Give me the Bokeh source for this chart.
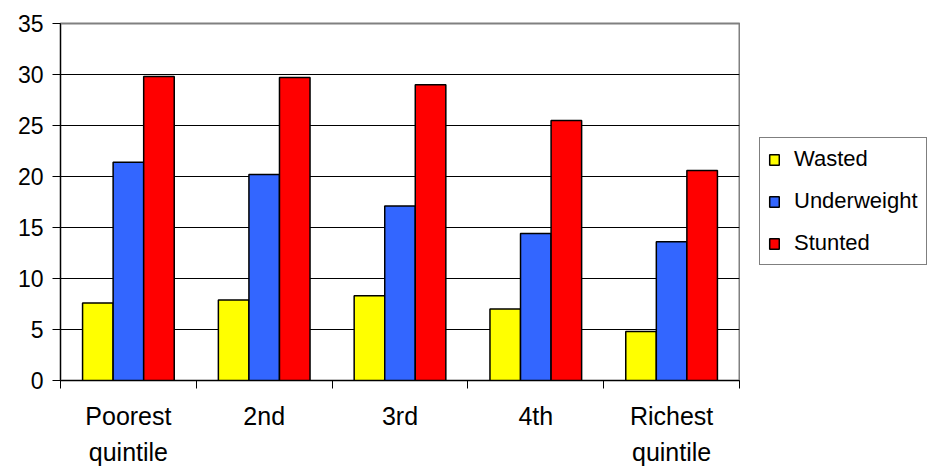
from bokeh.plotting import figure
from bokeh.layouts import row
from bokeh.models import ColumnDataSource, Range1d, FixedTicker, Legend, LegendItem
from bokeh.transform import dodge
from bokeh.embed import file_html
from bokeh.resources import INLINE

# Malnutrition prevalence (%) by wealth quintile
categories = ["Poorest\nquintile", "2nd", "3rd", "4th", "Richest\nquintile"]
wasted = [7.6, 7.9, 8.3, 7.0, 4.8]
underweight = [21.4, 20.2, 17.1, 14.4, 13.6]
stunted = [29.8, 29.7, 29.0, 25.5, 20.6]
y_ticks = [0, 5, 10, 15, 20, 25, 30, 35]

centers = [i + 0.5 for i in range(len(categories))]
source = ColumnDataSource(dict(x=centers, wasted=wasted,
                               underweight=underweight, stunted=stunted))

FONT = "Liberation Sans"

p = figure(width=740, height=468, output_backend="svg", toolbar_location=None,
           x_range=Range1d(0, len(categories)), y_range=Range1d(0, 35),
           min_border_left=60, min_border_right=1,
           min_border_top=23, min_border_bottom=86)
p.background_fill_color = "white"
p.border_fill_color = "white"
p.outline_line_color = "#808080"
p.outline_line_width = 2

bw = 0.225
series = [("wasted", "Wasted", "#FFFF00", -bw),
          ("underweight", "Underweight", "#3366FF", 0.0),
          ("stunted", "Stunted", "#FF0000", bw)]
for col, label, color, off in series:
    p.vbar(x=dodge("x", off), top=col, width=bw, bottom=0, source=source,
           fill_color=color, line_color="black", line_width=1.5)

# y axis
p.yaxis.ticker = FixedTicker(ticks=y_ticks)
p.yaxis.major_tick_out = 8
p.yaxis.major_tick_in = 0
p.yaxis.minor_tick_line_color = None
p.yaxis.axis_line_color = "black"
p.yaxis.major_tick_line_color = "black"
p.yaxis.major_label_text_font = FONT
p.yaxis.major_label_text_font_size = "23px"
p.yaxis.major_label_text_color = "black"
p.yaxis.major_label_standoff = 9

# x axis: labels at category centres, tick marks on category boundaries
p.xaxis.ticker = FixedTicker(ticks=centers,
                             minor_ticks=list(range(len(categories) + 1)))
p.xaxis.major_label_overrides = {c: lab for c, lab in zip(centers, categories)}
p.xaxis.major_tick_out = 0
p.xaxis.major_tick_in = 0
p.xaxis.minor_tick_out = 8
p.xaxis.minor_tick_in = 0
p.xaxis.minor_tick_line_color = "black"
p.xaxis.axis_line_color = "black"
p.xaxis.major_label_text_font = FONT
p.xaxis.major_label_text_font_size = "25px"
p.xaxis.major_label_text_color = "black"
p.xaxis.major_label_text_line_height = 1.3
p.xaxis.major_label_standoff = 13

# grid
p.xgrid.grid_line_color = None
p.ygrid.ticker = FixedTicker(ticks=y_ticks[1:-1])
p.ygrid.grid_line_color = "black"
p.ygrid.grid_line_width = 1

# legend column beside the chart
side = figure(width=188, height=468, output_backend="svg", toolbar_location=None,
              x_axis_type=None, y_axis_type=None,
              x_range=Range1d(0, 1), y_range=Range1d(0, 1),
              min_border_left=0, min_border_right=0,
              min_border_top=0, min_border_bottom=0)
side.outline_line_color = None
side.background_fill_color = "white"
side.border_fill_color = "white"
side.xgrid.visible = False
side.ygrid.visible = False

# zero-size proxy bars (hidden under the legend box) supplying the swatches
items = []
for col, label, color, off in series:
    swatch = side.vbar(x=[0.5], top=[0.5], bottom=[0.5], width=0,
                       fill_color=color, line_color="black", line_width=1.5)
    items.append(LegendItem(label=label, renderers=[swatch]))

lg = Legend(items=items, location=(19, 115))
lg.border_line_color = "black"
lg.border_line_width = 1
lg.background_fill_color = "white"
lg.background_fill_alpha = 1
lg.label_text_font = FONT
lg.label_text_font_size = "22px"
lg.label_text_color = "black"
lg.glyph_width = 12
lg.glyph_height = 13
lg.label_height = 25
lg.spacing = 16
lg.padding = 8
lg.label_standoff = 14
lg.margin = 0
side.add_layout(lg)

layout = row(p, side, spacing=0)
open("out.html", "w").write(file_html(layout, INLINE))
